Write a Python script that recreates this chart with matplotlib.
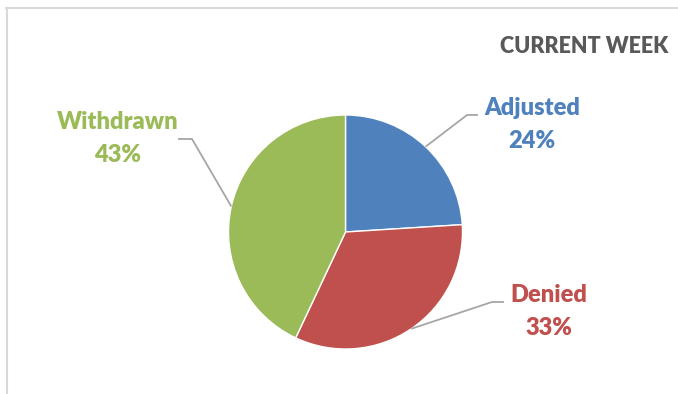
import numpy as np
import matplotlib
matplotlib.use("Agg")
import matplotlib.pyplot as plt
from matplotlib.lines import Line2D

categories = ["Adjusted", "Denied", "Withdrawn"]
values = [24, 33, 43]
colors = ["#4F81BD", "#C0504D", "#9BBB59"]
title = "CURRENT WEEK"

W, H = 678, 394
fig = plt.figure(figsize=(W / 100, H / 100), dpi=100)
ax = fig.add_axes([0, 0, 1, 1])

# chart border (partially visible)
fig.add_artist(Line2D([6 / W, 1], [1 - 8 / H, 1 - 8 / H], color="#d9d9d9", lw=1.5))
fig.add_artist(Line2D([6.5 / W, 6.5 / W], [0, 1 - 8 / H], color="#d9d9d9", lw=1.5))

cx, cy, r = 345.5, H - 232, 117
wedges, _ = ax.pie(values, colors=colors, startangle=90, counterclock=False,
                   center=(cx, cy), radius=r, frame=True,
                   wedgeprops=dict(edgecolor="white", linewidth=1))
ax.set_xlim(0, W)
ax.set_ylim(0, H)
ax.set_aspect("equal")
ax.axis("off")

font = ["Lato", "DejaVu Sans"]
# label layout: (elbow), (end), (text centre)
layout = {
    "Adjusted": ((467, 115), (478, 115), (532, 108)),
    "Denied": ((492, 302), (504, 302), (549, 295)),
    "Withdrawn": ((192, 139), (178, 139), (118, 122)),
}
total = sum(values)
for w, cat, val, col in zip(wedges, categories, values, colors):
    mid = np.deg2rad((w.theta1 + w.theta2) / 2)
    sx, sy = cx + r * np.cos(mid), cy + r * np.sin(mid)
    (ex, ey), (fx, fy), (tx, ty) = layout[cat]
    ax.plot([sx, ex, fx], [sy, H - ey, H - fy], color="#a6a6a6", lw=1.3,
            solid_capstyle="butt", zorder=1)
    ax.text(tx, H - ty, cat, color=col, fontsize=17, fontweight="heavy",
            family=font, ha="center", va="center")
    ax.text(tx, H - ty - 33, f"{round(val / total * 100)}%", color=col,
            fontsize=17, fontweight="heavy", family=font, ha="center", va="center")

ax.text(668, H - 46, title, color="#595959", fontsize=15.5, fontweight="heavy",
        family=font, ha="right", va="center")

fig.savefig("out.png", dpi=100)
